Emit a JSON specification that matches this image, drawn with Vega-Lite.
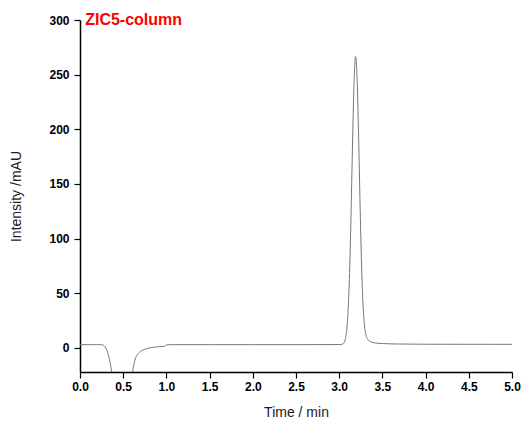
{
  "$schema": "https://vega.github.io/schema/vega-lite/v6.json",
  "autosize": "none",
  "width": 432,
  "height": 352,
  "padding": {"left": 80, "top": 20, "right": 9, "bottom": 49},
  "background": "white",
  "config": {
    "view": {"stroke": null},
    "font": "Liberation Sans"
  },
  "layer": [
    {
      "data": {"values": [
        {"t": 0, "v": 3}, {"t": 0.1, "v": 3}, {"t": 0.2, "v": 3}, {"t": 0.24, "v": 3},
        {"t": 0.27, "v": 2.5}, {"t": 0.29, "v": 1}, {"t": 0.31, "v": -2}, {"t": 0.33, "v": -7},
        {"t": 0.35, "v": -14}, {"t": 0.37, "v": -24}, {"t": 0.39, "v": -40}, {"t": 0.42, "v": -70},
        {"t": 0.5, "v": -90}, {"t": 0.56, "v": -70}, {"t": 0.59, "v": -40}, {"t": 0.61, "v": -22},
        {"t": 0.63, "v": -13}, {"t": 0.65, "v": -8}, {"t": 0.68, "v": -4.5}, {"t": 0.72, "v": -2.2},
        {"t": 0.78, "v": -0.5}, {"t": 0.85, "v": 0.6}, {"t": 0.92, "v": 1.2}, {"t": 0.98, "v": 1.5},
        {"t": 1.0, "v": 2.8}, {"t": 1.05, "v": 3}, {"t": 1.5, "v": 3}, {"t": 2.0, "v": 3},
        {"t": 2.5, "v": 3}, {"t": 3.0, "v": 3.1}, {"t": 3.03, "v": 3.3}, {"t": 3.05, "v": 4.2},
        {"t": 3.06, "v": 5.5}, {"t": 3.07, "v": 8}, {"t": 3.08, "v": 12}, {"t": 3.09, "v": 19},
        {"t": 3.1, "v": 30}, {"t": 3.11, "v": 46}, {"t": 3.12, "v": 69}, {"t": 3.13, "v": 98},
        {"t": 3.14, "v": 133}, {"t": 3.15, "v": 171}, {"t": 3.16, "v": 207}, {"t": 3.17, "v": 238},
        {"t": 3.18, "v": 259}, {"t": 3.19, "v": 266.5}, {"t": 3.2, "v": 259}, {"t": 3.21, "v": 239},
        {"t": 3.22, "v": 209}, {"t": 3.23, "v": 174}, {"t": 3.24, "v": 137}, {"t": 3.25, "v": 102},
        {"t": 3.26, "v": 73}, {"t": 3.27, "v": 50}, {"t": 3.28, "v": 34}, {"t": 3.29, "v": 23},
        {"t": 3.3, "v": 16}, {"t": 3.31, "v": 12}, {"t": 3.32, "v": 9.5}, {"t": 3.34, "v": 7},
        {"t": 3.37, "v": 5.5}, {"t": 3.42, "v": 4.5}, {"t": 3.5, "v": 4}, {"t": 3.7, "v": 3.6},
        {"t": 4.0, "v": 3.4}, {"t": 5.0, "v": 3.3}
      ]},
      "mark": {"type": "line", "color": "#777777", "strokeWidth": 1, "clip": true, "interpolate": "monotone"},
      "encoding": {
        "x": {
          "field": "t", "type": "quantitative",
          "scale": {"domain": [0, 5], "nice": false, "zero": false},
          "axis": {
            "title": "Time / min",
            "titleFont": "Liberation Sans",
            "titleFontSize": 14, "titleFontWeight": "normal", "titleColor": "#222",
            "titlePadding": 13,
            "values": [0,0.25,0.5,0.75,1,1.25,1.5,1.75,2,2.25,2.5,2.75,3,3.25,3.5,3.75,4,4.25,4.5,4.75,5],
            "format": ".1f",
            "labelExpr": "round(datum.value*100) % 50 === 0 ? datum.label : ''",
            "labelFont": "Liberation Sans",
            "labelFontSize": 12, "labelFontWeight": "bold", "labelColor": "#000",
            "labelPadding": 3,
            "grid": false, "domainColor": "#000", "domainWidth": 1.5,
            "tickColor": "#000", "tickWidth": 1.2,
            "tickSize": {"condition": {"test": "round(datum.value*100) % 50 !== 0", "value": 3}, "value": 6},
            "labelFlush": false, "labelOverlap": false
          }
        },
        "y": {
          "field": "v", "type": "quantitative",
          "scale": {"domain": [-22, 300], "nice": false, "zero": false},
          "axis": {
            "title": "Intensity /mAU",
            "titleFont": "Liberation Sans",
            "titleFontSize": 14, "titleFontWeight": "normal", "titleColor": "#222",
            "titlePadding": 25,
            "values": [0,25,50,75,100,125,150,175,200,225,250,275,300],
            "labelExpr": "datum.value % 50 === 0 ? datum.label : ''",
            "labelFont": "Liberation Sans",
            "labelFontSize": 12, "labelFontWeight": "bold", "labelColor": "#000",
            "labelPadding": 5,
            "grid": false, "domainColor": "#000", "domainWidth": 1.5,
            "tickColor": "#000", "tickWidth": 1.2,
            "tickSize": {"condition": {"test": "datum.value % 50 !== 0", "value": 3}, "value": 6},
            "labelFlush": false, "labelOverlap": false
          }
        }
      }
    },
    {
      "data": {"values": [{"label": "ZIC5-column", "t": 0.06, "v": 300}]},
      "mark": {"type": "text", "align": "left", "baseline": "middle", "color": "#ff0000", "font": "Liberation Sans", "fontWeight": "bold", "fontSize": 16},
      "encoding": {
        "x": {"field": "t", "type": "quantitative"},
        "y": {"field": "v", "type": "quantitative"},
        "text": {"field": "label"}
      }
    }
  ]
}
